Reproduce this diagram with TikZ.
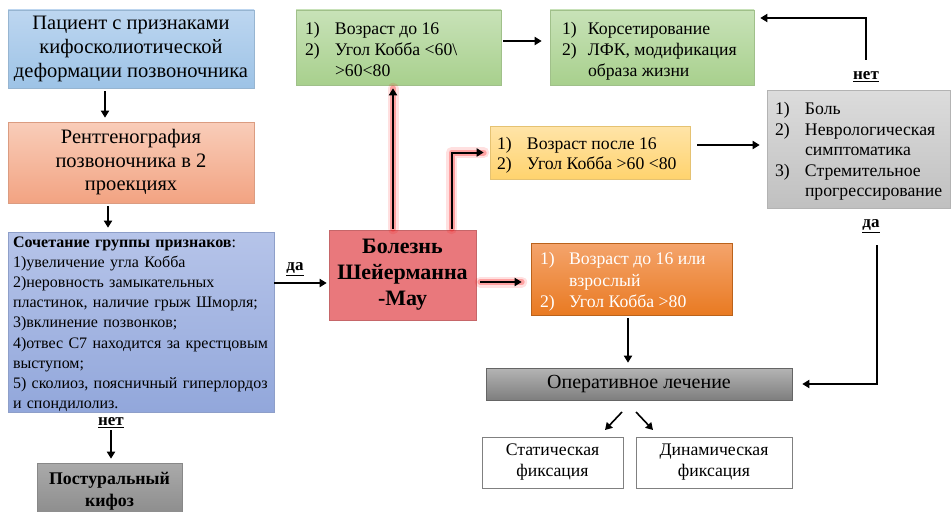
\documentclass[tikz,border=0pt]{standalone}
\usepackage{fontspec}
\setmainfont{Liberation Serif}
\usepackage{array}
\usetikzlibrary{arrows.meta,shadows}
\newcommand\twocol[4]{\begin{tabular}{@{}p{#1}@{}>{\raggedright\arraybackslash}p{#2}@{}}\rule{0pt}{#3}#4\end{tabular}}
\definecolor{blueA}{HTML}{BDD6F0}
\definecolor{blueB}{HTML}{9DC3E6}
\definecolor{salA}{HTML}{F9CDB9}
\definecolor{salB}{HTML}{F2A382}
\definecolor{purA}{HTML}{B6C4E9}
\definecolor{purB}{HTML}{92A7DB}
\definecolor{grnA}{HTML}{C8E2B8}
\definecolor{grnB}{HTML}{A8D08D}
\definecolor{yelA}{HTML}{FFE4A8}
\definecolor{yelB}{HTML}{FFD36E}
\definecolor{orA}{HTML}{F4A46C}
\definecolor{orB}{HTML}{E97A22}
\definecolor{scheu}{HTML}{E9787C}
\definecolor{gryA}{HTML}{DCDCDC}
\definecolor{gryB}{HTML}{C0C0C0}
\definecolor{opA}{HTML}{B4B4B4}
\definecolor{opB}{HTML}{7E7E7E}
\definecolor{poA}{HTML}{AAAAAA}
\definecolor{poB}{HTML}{8A8A8A}
\tikzset{
  box/.style={draw=#1, line width=0.6pt, inner sep=0pt,
    drop shadow={opacity=0.25, shadow xshift=1.2pt, shadow yshift=-1.2pt}},
  arr/.style={-{Triangle[length=7pt,width=8pt]}, line width=2pt, black},
  glow/.style={preaction={draw=red, line width=11pt, opacity=0.12, line join=round, line cap=round, -},
               preaction={draw=red, line width=6pt, opacity=0.28, line join=round, line cap=round, -}},
  lbl/.style={font=\fontsize{17}{19}\selectfont\bfseries, inner sep=1pt},
}
\begin{document}
\begin{tikzpicture}[x=1pt,y=-1pt]
\clip (0,0) rectangle (952,511);
\fill[white] (0,0) rectangle (952,511);

% left column
\node[box=blueB!80!gray, top color=blueA, bottom color=blueB, minimum width=246pt, minimum height=78pt,
  align=center, font=\fontsize{20.5}{24}\selectfont] (pat) at (131,49)
  {Пациент с признаками\\кифосколиотической\\деформации позвоночника};
\node[box=salB!80!gray, top color=salA, bottom color=salB, minimum width=246pt, minimum height=81pt,
  align=center, font=\fontsize{20.5}{23.5}\selectfont] (rent) at (131,162.5)
  {Рентгенография\\позвоночника в 2\\проекциях};
\node[box=purB!80!gray, top color=purA, bottom color=purB, minimum height=180pt,
  inner xsep=5pt, text width=256pt, align=left, font=\fontsize{16}{20.1}\selectfont] (sig) at (141,322)
  {\rule{0pt}{15pt}\textbf{Сочетание группы признаков}:\\
   1)увеличение угла Кобба\\
   2)неровность замыкательных\\
   пластинок, наличие грыж Шморля;\\
   3)вклинение позвонков;\\
   4)отвес С7 находится за крестцовым\\
   выступом;\\
   5) сколиоз, поясничный гиперлордоз\\
   и спондилолиз.};
\node[lbl] (net1) at (111,423) {\underline{нет}};
\node[box=poB!80!gray, top color=poA, bottom color=poB, minimum width=145pt, minimum height=56pt,
  align=center, font=\fontsize{17.8}{22}\selectfont\bfseries] (post) at (109.5,491)
  {Постуральный\\кифоз};

% center
\node[box=scheu!85!black, fill=scheu, minimum width=147pt, minimum height=90pt,
  align=center, font=\fontsize{22}{26}\selectfont\bfseries] (sch) at (402.5,275)
  {Болезнь\\Шейерманна\\-Мау};
\node[lbl] (da1) at (295,269) {\underline{да}};

\node[box=grnB!80!gray, top color=grnA, bottom color=grnB, minimum width=205pt, minimum height=75pt,
  inner xsep=9pt, align=left, font=\fontsize{17.7}{21}\selectfont] (g1) at (398.5,47.5)
  {\twocol{30pt}{157pt}{22.5pt}{1) & Возраст до 16\\ 2) & Угол Кобба <60\textbackslash\newline >60<80}};
\node[box=grnB!80!gray, top color=grnA, bottom color=grnB, minimum width=204pt, minimum height=75pt,
  inner xsep=12pt, align=left, font=\fontsize{17.7}{21}\selectfont] (g2) at (652,47.5)
  {\twocol{26pt}{154pt}{22.5pt}{1) & Корсетирование\\ 2) & ЛФК, модификация\newline образа жизни}};
\node[box=yelB!80!gray, top color=yelA, bottom color=yelB, minimum width=200pt, minimum height=53pt,
  inner xsep=7pt, align=left, font=\fontsize{17.7}{20}\selectfont] (yel) at (590,152.5)
  {\twocol{30pt}{156pt}{20pt}{1) & Возраст после 16\\ 2) & Угол Кобба >60 <80}};
\node[box=orB!80!black, top color=orA, bottom color=orB, minimum width=201pt, minimum height=72pt,
  inner xsep=9pt, align=left, text=white, font=\fontsize{17.7}{21.5}\selectfont] (or) at (631.5,279)
  {\twocol{29pt}{154pt}{21pt}{1) & Возраст до 16 или\newline взрослый\\ 2) & Угол Кобба >80}};
\node[box=gryB!80!gray, top color=gryA, bottom color=gryB, minimum width=183pt, minimum height=118pt,
  inner xsep=8pt, align=left, font=\fontsize{17.7}{20.5}\selectfont] (gr) at (858.5,149)
  {\twocol{30pt}{137pt}{19.5pt}{1) & Боль\\ 2) & Неврологическая\newline симптоматика\\ 3) & Стремительное\newline прогрессирование}};
\node[lbl] (net2) at (866,77) {\underline{нет}};
\node[lbl] (da2) at (871,226) {\underline{да}};

\node[box=opB!80!black, top color=opA, bottom color=opB, minimum width=306pt, minimum height=32pt,
  align=center, font=\fontsize{20}{22}\selectfont] (op) at (639,384) {Оперативное лечение};
\node[box=gray, fill=white, minimum width=141pt, minimum height=51pt,
  align=center, font=\fontsize{17.7}{21}\selectfont] (stat) at (552.5,462.5) {Статическая\\фиксация};
\node[box=gray, fill=white, minimum width=156pt, minimum height=51pt,
  align=center, font=\fontsize{17.7}{21}\selectfont] (dyn) at (714,462.5) {Динамическая\\фиксация};

% coordinates
\coordinate (c1) at (866,60);
\coordinate (c2) at (877,245);
\coordinate (d1s) at (622,412);
\coordinate (d1e) at (605,430);
\coordinate (d2s) at (636,412);
\coordinate (d2e) at (653,430);

% connectors
\draw[arr, shorten <=3pt, shorten >=4pt] ([xshift=-26pt]pat.south) -- ([xshift=-26pt]rent.north);
\draw[arr, shorten <=3pt, shorten >=4pt] ([xshift=-23pt]rent.south) -- ([xshift=-23pt]rent.south |- sig.north);
\draw[arr, shorten <=1pt, shorten >=4pt] (net1.south) -- (net1.south |- post.north);
\draw[arr, shorten >=2pt] ([yshift=-8pt]sch.west -| sig.east) -- ([yshift=-8pt]sch.west);
\draw[arr, glow, shorten <=1pt, shorten >=3pt] ([xshift=-9.5pt]sch.north) -- ([xshift=-9.5pt]sch.north |- g1.south);
\draw[arr, glow, shorten <=1pt, shorten >=6pt] ([xshift=49pt]sch.north) |- (yel.west);
\draw[arr, glow, shorten <=4pt, shorten >=9pt] ([yshift=-7pt]sch.east) -- ([yshift=-7pt]sch.east -| or.west);
\draw[arr, shorten <=2pt, shorten >=8pt] ([yshift=6.5pt]g1.east) -- ([yshift=6.5pt]g2.west);
\draw[arr, shorten <=7pt, shorten >=7pt] ([yshift=7.5pt]yel.east) -- ([yshift=7.5pt]yel.east -| gr.west);
\draw[arr, shorten >=6pt] (c1) |- ([yshift=29.5pt]g2.east);
\draw[arr, shorten >=10pt] (c2) |- (op.east);
\draw[arr, shorten <=3pt, shorten >=5pt] ([xshift=-3.5pt]or.south) -- ([xshift=-3.5pt]or.south |- op.north);
\draw[arr, line width=1.6pt] (d1s) -- (d1e);
\draw[arr, line width=1.6pt] (d2s) -- (d2e);
\end{tikzpicture}
\end{document}
